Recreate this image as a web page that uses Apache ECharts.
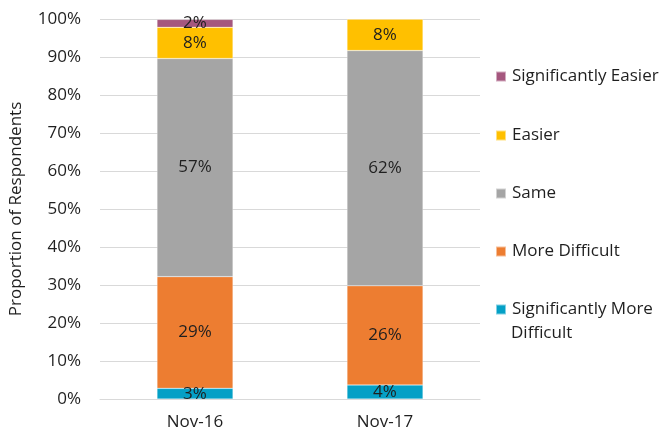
<!DOCTYPE html>
<html>
<head>
<meta charset="utf-8">
<script src="https://cdn.jsdelivr.net/npm/echarts@6/dist/echarts.min.js"></script>
<style>
  html, body { margin: 0; padding: 0; background: #fff; }
  #chart { width: 662px; height: 437px; }
</style>
</head>
<body>
<div id="chart"></div>
<script>
// periods on the x axis
const categories = ["Nov-16", "Nov-17"];
// shares in percent (bottom to top of the stack)
const sigMoreDifficult = [2.8, 3.7];
const moreDifficult = [29.4, 26.1];
const same = [57.4, 61.9];
const easier = [8.2, 8.3];
const sigEasier = [2.1, 0];
const yTicks = [0, 10, 20, 30, 40, 50, 60, 70, 80, 90, 100];

const font = "'Open Sans', 'Noto Sans', sans-serif";
const textColor = "#1f1f1f";
const fontSize = 17;

const seriesDefs = [
  { name: "Significantly More Difficult", data: sigMoreDifficult, color: "#04a0c6" },
  { name: "More Difficult", data: moreDifficult, color: "#ed7d31" },
  { name: "Same", data: same, color: "#a5a5a5" },
  { name: "Easier", data: easier, color: "#ffc000" },
  { name: "Significantly Easier", data: sigEasier, color: "#a5577e" },
];

// legend rows (top to bottom), placed one by one like the original
const legendRows = [
  { name: "Significantly Easier", top: 68 },
  { name: "Easier", top: 127 },
  { name: "Same", top: 185 },
  { name: "More Difficult", top: 243 },
  { name: "Significantly More Difficult", top: 301, text: "Significantly More" },
];

const chart = echarts.init(document.getElementById("chart"));

const option = {
  animation: false,
  textStyle: { fontFamily: font },
  grid: { left: 99, right: 182, top: 19, bottom: 38 },
  legend: legendRows.map((row) => ({
    data: [row.name],
    left: 495,
    top: row.top,
    orient: "vertical",
    icon: "rect",
    itemWidth: 10,
    itemHeight: 10,
    itemGap: 0,
    padding: 0,
    formatter: () => row.text || row.name,
    textStyle: { fontSize: fontSize, color: textColor, fontFamily: font, padding: [0, 0, 0, 1] },
  })),
  graphic: [
    {
      type: "text",
      left: 511,
      top: 325,
      style: { text: "Difficult", fontSize: fontSize, fill: textColor, fontFamily: font },
    },
  ],
  xAxis: {
    type: "category",
    data: categories,
    axisLine: { lineStyle: { color: "#d9d9d9" } },
    axisTick: { show: false },
    axisLabel: { fontSize: fontSize, color: textColor, margin: 15 },
  },
  yAxis: {
    type: "value",
    min: 0,
    max: 100,
    interval: 10,
    name: "Proportion of Respondents",
    nameLocation: "middle",
    nameGap: 75,
    nameTextStyle: { fontSize: fontSize, color: textColor },
    axisLine: { show: false },
    axisTick: { show: false },
    axisLabel: {
      fontSize: fontSize,
      color: textColor,
      margin: 19,
      formatter: (v) => (yTicks.includes(v) ? v + "%" : ""),
    },
    splitLine: { lineStyle: { color: "#d9d9d9" } },
  },
  series: seriesDefs.map((s) => ({
    name: s.name,
    type: "bar",
    stack: "total",
    barWidth: "40%",
    data: s.data,
    itemStyle: { color: s.color, borderColor: "rgba(255,255,255,0.5)", borderWidth: 0.5 },
    label: {
      show: true,
      position: "inside",
      fontSize: fontSize,
      color: textColor,
      formatter: (p) => (p.value > 0 ? Math.round(p.value) + "%" : ""),
    },
  })),
};

chart.setOption(option);
</script>
</body>
</html>
